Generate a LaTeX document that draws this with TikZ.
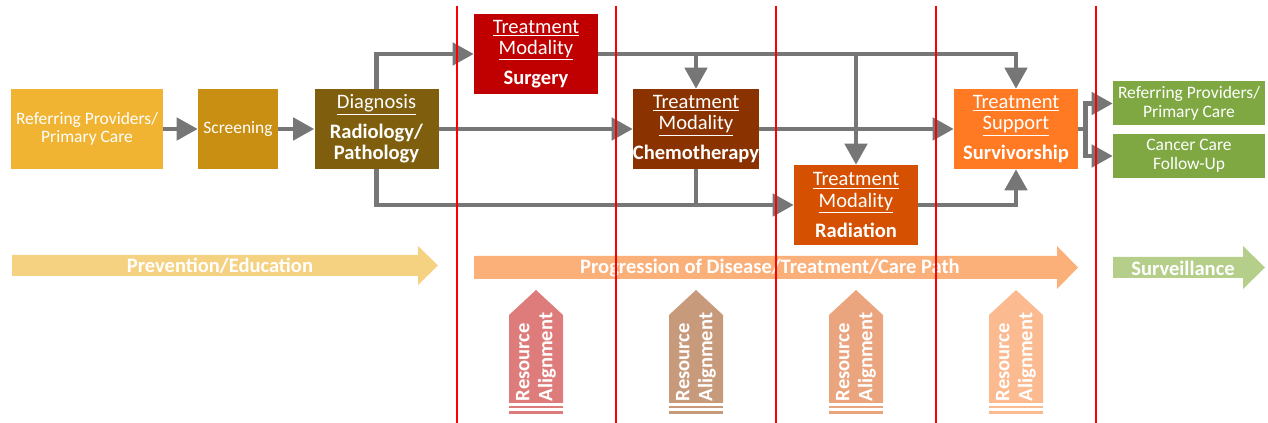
\documentclass[tikz,border=0pt]{standalone}
\usepackage{fontspec}
\setmainfont{Carlito}
\usetikzlibrary{arrows.meta}
\definecolor{RefGold}{RGB}{240,180,50}
\definecolor{ScreenGold}{RGB}{201,143,18}
\definecolor{DiagBrown}{RGB}{127,95,14}
\definecolor{SurgeryRed}{RGB}{192,0,0}
\definecolor{ChemoBrown}{RGB}{139,51,0}
\definecolor{RadiationOrange}{RGB}{213,80,0}
\definecolor{SupportOrange}{RGB}{255,122,34}
\definecolor{CareGreen}{RGB}{127,168,67}
\definecolor{FlowGray}{RGB}{118,118,118}
\definecolor{PreventionFill}{RGB}{245,210,130}
\definecolor{ProgressionFill}{RGB}{251,176,122}
\definecolor{SurveillanceFill}{RGB}{181,207,139}
\definecolor{ResA}{RGB}{222,124,124}
\definecolor{ResB}{RGB}{199,154,124}
\definecolor{ResC}{RGB}{234,164,126}
\definecolor{ResD}{RGB}{251,186,143}
\begin{document}
\begin{tikzpicture}
    [
        x=0.75pt, y=-0.75pt,
        Field/.style={rectangle, inner sep=0pt, minimum width=93pt, minimum height=60pt, text=white, align=center, font=\fontsize{15.4}{16}\selectfont},
        SmallField/.style={Field, font=\fontsize{13.1}{14}\selectfont},
        FlowLine/.style={draw=FlowGray, line width=3.4pt},
        Flow/.style={FlowLine, -{Triangle[length=15.75pt,width=16.5pt]}},
        Divider/.style={draw=red, line width=1.5pt},
        BandText/.style={text=white, inner sep=0pt, font=\fontsize{15.4}{16}\selectfont\bfseries},
        ResourceText/.style={text=white, rotate=90, align=left, inner sep=0pt, font=\fontsize{15.4}{17.25}\selectfont\bfseries}
    ]
    \useasboundingbox (0,0) rectangle (1268,423);

    \node[SmallField, fill=RefGold, minimum width=114pt] (RefProviders) at (87,129) {Referring Providers/\\Primary Care};
    \node[SmallField, fill=ScreenGold, minimum width=60pt] (Screening) at (238,129) {Screening};
    \node[Field, fill=DiagBrown] (Diagnosis) at (376.5,129) {\underline{Diagnosis}\\[6.5pt]\textbf{Radiology/}\\\textbf{Pathology}};
    \node[Field, fill=SurgeryRed] (Surgery) at (536,54) {\underline{Treatment}\\\underline{Modality}\\[6.5pt]\textbf{Surgery}};
    \node[Field, fill=ChemoBrown] (Chemotherapy) at (696,129) {\underline{Treatment}\\\underline{Modality}\\[6.5pt]\textbf{Chemotherapy}};
    \node[Field, fill=RadiationOrange] (Radiation) at (856,205) {\underline{Treatment}\\\underline{Modality}\\[6.5pt]\textbf{Radiation}};
    \node[Field, fill=SupportOrange] (Survivorship) at (1016,129) {\underline{Treatment}\\\underline{Support}\\[6.5pt]\textbf{Survivorship}};
    \node[SmallField, fill=CareGreen, minimum width=114pt, minimum height=33pt] (ReferBack) at (1189,103.5) {Referring Providers/\\Primary Care};
    \node[SmallField, fill=CareGreen, minimum width=114pt, minimum height=33pt] (FollowUp) at (1189,156) {Cancer Care\\Follow-Up};

    \draw[Flow] (RefProviders) -- (Screening);
    \draw[Flow] (Screening) -- (Diagnosis);
    \draw[Flow] (Diagnosis) -- (Chemotherapy);
    \draw[Flow] (Diagnosis.north) |- (Surgery.west);
    \draw[Flow] (Diagnosis.south) |- (Radiation.west);
    \draw[Flow] (Surgery.east) -| (Survivorship.north);
    \draw[Flow] (Chemotherapy.north |- Surgery.east) -- (Chemotherapy.north);
    \draw[Flow] (Radiation.north |- Surgery.east) -- (Radiation.north);
    \draw[FlowLine] (Chemotherapy.south) -- (Chemotherapy.south |- Radiation.west);
    \draw[Flow] (Chemotherapy) -- (Survivorship);
    \draw[Flow] (Radiation.east) -| (Survivorship.south);
    \draw[Flow] (Survivorship.east) -- ++(7,0) |- (ReferBack.west);
    \draw[Flow] (Survivorship.east) -- ++(7,0) |- (FollowUp.west);

    \fill[PreventionFill] (12,255) -- (418,255) -- (418,246) -- (438,265.5) -- (418,285) -- (418,276) -- (12,276) -- cycle;
    \node[BandText] (Prevention) at (220,266) {Prevention/Education};
    \fill[ProgressionFill] (474,256) -- (1057,256) -- (1057,246) -- (1078,267.5) -- (1057,289) -- (1057,279) -- (474,279) -- cycle;
    \node[BandText] (Progression) at (770,268) {Progression of Disease/Treatment/Care Path};
    \fill[SurveillanceFill] (1113,257) -- (1243,257) -- (1243,246) -- (1265,267.5) -- (1243,289) -- (1243,278) -- (1113,278) -- cycle;
    \node[BandText] (Surveillance) at (1183,268) {Surveillance};

    \foreach \cx/\col in {536/ResA,696/ResB,856/ResC,1016/ResD}
    {
        \fill[\col] (\cx-27,403) -- (\cx-27,315) -- (\cx,290) -- (\cx+27,315) -- (\cx+27,403) -- cycle;
        \fill[\col] (\cx-27,406) rectangle (\cx+27,408.5);
        \fill[\col] (\cx-27,411) rectangle (\cx+27,414);
        \node[ResourceText] (Resource\cx) at (\cx,357) {Resource\\Alignment};
    }

    \foreach \lx in {457,616,776,936,1096}
        \draw[Divider] (\lx,6) -- (\lx,423);
\end{tikzpicture}
\end{document}
